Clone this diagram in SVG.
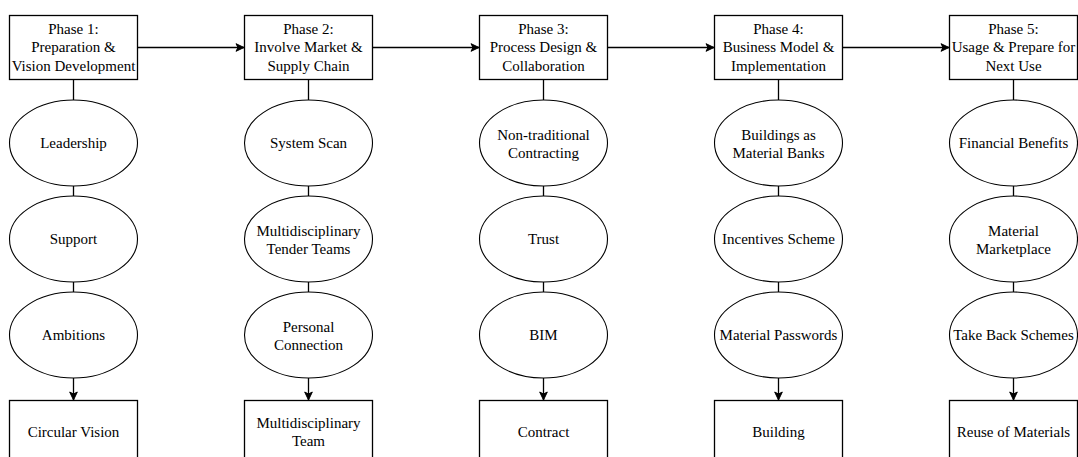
<svg xmlns="http://www.w3.org/2000/svg" width="1078" height="457" viewBox="0 0 1078 457">
<style>
.box{fill:#fff;stroke:#000;stroke-width:1.3}
.ell{fill:#fff;stroke:#000;stroke-width:1.1}
.t{font-family:'Liberation Serif','Times New Roman',Times,Tinos,'DejaVu Serif',serif;font-size:15px;fill:#000;text-anchor:middle}
.c{stroke:#000;stroke-width:1.3;fill:none}
</style>
<defs>
<marker id="arr" markerUnits="userSpaceOnUse" markerWidth="10" markerHeight="10" viewBox="0 0 10 10" refX="9" refY="5" orient="auto">
<path d="M1,1.2 L9,5 L1,8.8 L3,5 Z" fill="#000" stroke="#000" stroke-width="1"/>
</marker>
</defs>
<g id="connectors">
<path class="c" d="M137.5,47.5 H244" marker-end="url(#arr)"/>
<path class="c" d="M372.5,47.5 H479" marker-end="url(#arr)"/>
<path class="c" d="M607.5,47.5 H714" marker-end="url(#arr)"/>
<path class="c" d="M842.5,47.5 H949" marker-end="url(#arr)"/>
<path class="c" d="M73.5,79.5 V100 M73.5,186 V196 M73.5,282 V292"/>
<path class="c" d="M73.5,378 V400" marker-end="url(#arr)"/>
<path class="c" d="M308.5,79.5 V100 M308.5,186 V196 M308.5,282 V292"/>
<path class="c" d="M308.5,378 V400" marker-end="url(#arr)"/>
<path class="c" d="M543.5,79.5 V100 M543.5,186 V196 M543.5,282 V292"/>
<path class="c" d="M543.5,378 V400" marker-end="url(#arr)"/>
<path class="c" d="M778.5,79.5 V100 M778.5,186 V196 M778.5,282 V292"/>
<path class="c" d="M778.5,378 V400" marker-end="url(#arr)"/>
<path class="c" d="M1013.5,79.5 V100 M1013.5,186 V196 M1013.5,282 V292"/>
<path class="c" d="M1013.5,378 V400" marker-end="url(#arr)"/>
</g>
<g id="phase1"><rect class="box" x="9.5" y="15.5" width="128" height="64"/><text class="t" x="73.5"><tspan x="73.5" y="33.5">Phase 1:</tspan><tspan x="73.5" y="52">Preparation &amp;</tspan><tspan x="73.5" y="70.5">Vision Development</tspan></text></g>
<g id="leadership"><ellipse class="ell" cx="73.5" cy="143" rx="64" ry="43"/><text class="t" x="73.5" y="148">Leadership</text></g>
<g id="support"><ellipse class="ell" cx="73.5" cy="239" rx="64" ry="43"/><text class="t" x="73.5" y="244">Support</text></g>
<g id="ambitions"><ellipse class="ell" cx="73.5" cy="335" rx="64" ry="43"/><text class="t" x="73.5" y="340">Ambitions</text></g>
<g id="circular-vision"><rect class="box" x="9.5" y="400.5" width="128" height="64"/><text class="t" x="73.5" y="437">Circular Vision</text></g>

<g id="phase2"><rect class="box" x="244.5" y="15.5" width="128" height="64"/><text class="t"><tspan x="308.5" y="33.5">Phase 2:</tspan><tspan x="308.5" y="52">Involve Market &amp;</tspan><tspan x="308.5" y="70.5">Supply Chain</tspan></text></g>
<g id="system-scan"><ellipse class="ell" cx="308.5" cy="143" rx="64" ry="43"/><text class="t" x="308.5" y="148">System Scan</text></g>
<g id="tender-teams"><ellipse class="ell" cx="308.5" cy="239" rx="64" ry="43"/><text class="t"><tspan x="308.5" y="235.5">Multidisciplinary</tspan><tspan x="308.5" y="253.5">Tender Teams</tspan></text></g>
<g id="personal-connection"><ellipse class="ell" cx="308.5" cy="335" rx="64" ry="43"/><text class="t"><tspan x="308.5" y="331.5">Personal</tspan><tspan x="308.5" y="349.5">Connection</tspan></text></g>
<g id="multidisciplinary-team"><rect class="box" x="244.5" y="400.5" width="128" height="64"/><text class="t"><tspan x="308.5" y="428">Multidisciplinary</tspan><tspan x="308.5" y="446">Team</tspan></text></g>

<g id="phase3"><rect class="box" x="479.5" y="15.5" width="128" height="64"/><text class="t"><tspan x="543.5" y="33.5">Phase 3:</tspan><tspan x="543.5" y="52">Process Design &amp;</tspan><tspan x="543.5" y="70.5">Collaboration</tspan></text></g>
<g id="non-traditional"><ellipse class="ell" cx="543.5" cy="143" rx="64" ry="43"/><text class="t"><tspan x="543.5" y="139.5">Non-traditional</tspan><tspan x="543.5" y="157.5">Contracting</tspan></text></g>
<g id="trust"><ellipse class="ell" cx="543.5" cy="239" rx="64" ry="43"/><text class="t" x="543.5" y="244">Trust</text></g>
<g id="bim"><ellipse class="ell" cx="543.5" cy="335" rx="64" ry="43"/><text class="t" x="543.5" y="340">BIM</text></g>
<g id="contract"><rect class="box" x="479.5" y="400.5" width="128" height="64"/><text class="t" x="543.5" y="437">Contract</text></g>

<g id="phase4"><rect class="box" x="714.5" y="15.5" width="128" height="64"/><text class="t"><tspan x="778.5" y="33.5">Phase 4:</tspan><tspan x="778.5" y="52">Business Model &amp;</tspan><tspan x="778.5" y="70.5">Implementation</tspan></text></g>
<g id="material-banks"><ellipse class="ell" cx="778.5" cy="143" rx="64" ry="43"/><text class="t"><tspan x="778.5" y="139.5">Buildings as</tspan><tspan x="778.5" y="157.5">Material Banks</tspan></text></g>
<g id="incentives"><ellipse class="ell" cx="778.5" cy="239" rx="64" ry="43"/><text class="t" x="778.5" y="244">Incentives Scheme</text></g>
<g id="passwords"><ellipse class="ell" cx="778.5" cy="335" rx="64" ry="43"/><text class="t" x="778.5" y="340">Material Passwords</text></g>
<g id="building"><rect class="box" x="714.5" y="400.5" width="128" height="64"/><text class="t" x="778.5" y="437">Building</text></g>

<g id="phase5"><rect class="box" x="949.5" y="15.5" width="128" height="64"/><text class="t"><tspan x="1013.5" y="33.5">Phase 5:</tspan><tspan x="1013.5" y="52">Usage &amp; Prepare for</tspan><tspan x="1013.5" y="70.5">Next Use</tspan></text></g>
<g id="financial"><ellipse class="ell" cx="1013.5" cy="143" rx="64" ry="43"/><text class="t" x="1013.5" y="148">Financial Benefits</text></g>
<g id="marketplace"><ellipse class="ell" cx="1013.5" cy="239" rx="64" ry="43"/><text class="t"><tspan x="1013.5" y="235.5">Material</tspan><tspan x="1013.5" y="253.5">Marketplace</tspan></text></g>
<g id="take-back"><ellipse class="ell" cx="1013.5" cy="335" rx="64" ry="43"/><text class="t" x="1013.5" y="340">Take Back Schemes</text></g>
<g id="reuse"><rect class="box" x="949.5" y="400.5" width="128" height="64"/><text class="t" x="1013.5" y="437">Reuse of Materials</text></g>
</svg>
